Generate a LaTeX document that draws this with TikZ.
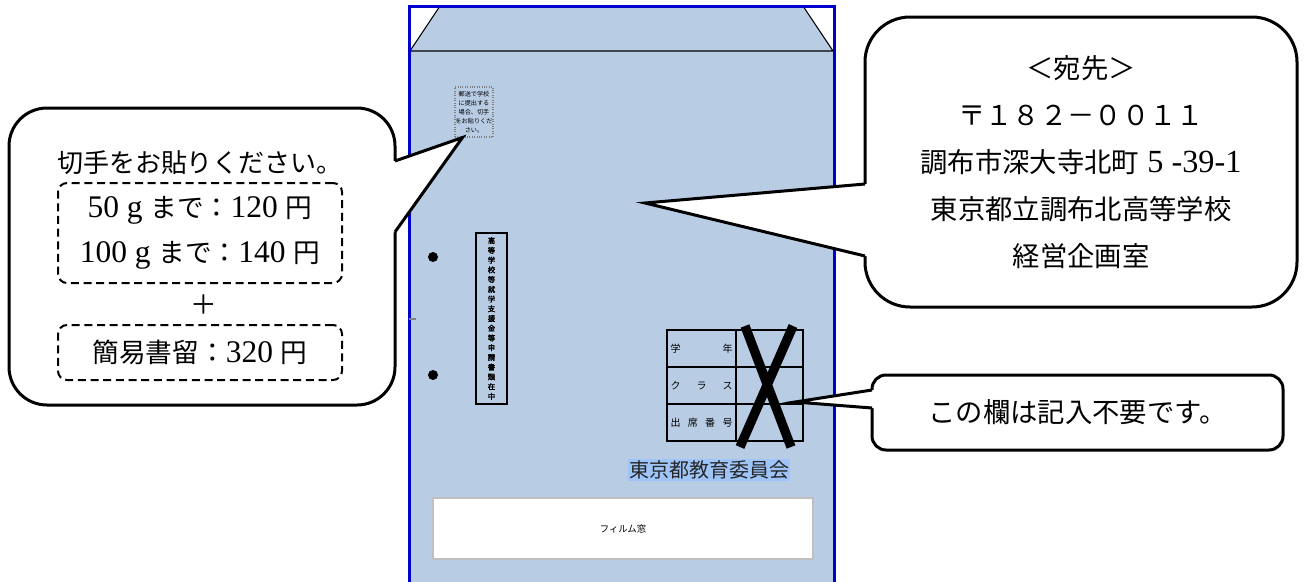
\documentclass[tikz,border=0pt]{standalone}
\usepackage{fontspec}
\setmainfont[Scale=1.18]{Liberation Serif}
\newfontfamily\jp{Noto Sans CJK JP}
\newfontfamily\jpbold[FakeBold=2.5]{Noto Sans CJK JP}
\usetikzlibrary{positioning,calc}
\newdimen\pxu \pxu=0.75pt
\definecolor{envblue}{HTML}{B8CCE4}
\definecolor{edgeblue}{HTML}{0000CC}
\definecolor{markblue}{HTML}{9FC5F8}

\begin{document}
\begin{tikzpicture}[x=0.75pt,y=-0.75pt,
    callout/.style={rectangle,draw,fill=white,line width=2.25pt},
    pricebox/.style={rectangle,draw,line width=1.5pt,dash pattern=on 6pt off 3.5pt,
        rounded corners=9\pxu,minimum width=284\pxu},
    cell/.style={rectangle,draw,line width=1.5pt,outer sep=0pt,inner sep=0pt,
        minimum height=37\pxu,anchor=north west,font=\jp\fontsize{7.5}{9}\selectfont},
    wedge/.style={line width=2.25pt,line join=miter}]
  \useasboundingbox (0,0) rectangle (1304,582);
  %%%%% THE ENVELOPE
  \fill[envblue] (409,6) rectangle (834,582);
  \fill[white] (409,6) -- (440,6) -- (409,51) -- cycle;
  \fill[white] (834,6) -- (803,6) -- (834,51) -- cycle;
  \draw[line width=0.8pt] (440,6) -- (410,51) -- (833,51) -- (803,6);
  \draw[edgeblue,line width=2.25pt] (409,582) -- (409,6) -- (834,6) -- (834,582);
  \draw[gray,line width=1.5pt] (409,319) -- (416,319);
  \fill (433,257) circle[radius=5\pxu];
  \fill (433,375) circle[radius=5\pxu];
  % stamp box and side strip
  \node[draw=gray,densely dotted,line width=0.8pt,fill=envblue,minimum width=38\pxu,
      minimum height=50\pxu,inner sep=0pt,align=center,
      font=\jp\fontsize{4.6}{6.8}\selectfont] (stamp) at (474,112)
      {郵送で学校\\に提出する\\場合、切手\\をお貼りくだ\\さい。};
  \node[draw,line width=1.5pt,minimum width=31\pxu,minimum height=171\pxu,inner sep=0pt,
      align=center,font=\jpbold\fontsize{5.5}{7.3}\selectfont] (strip) at (491.5,318.5)
      {高\\等\\学\\校\\等\\就\\学\\支\\援\\金\\等\\申\\請\\書\\類\\在\\中};
  %%%%% THE TABLE
  \node[cell,minimum width=69\pxu] (grade-1-1) at (667,330) {\makebox[62\pxu][s]{学\hfill 年}};
  \node[cell,minimum width=67\pxu] (grade-1-2) at (736,330) {};
  \node[cell,minimum width=69\pxu] (grade-2-1) at (667,367) {\makebox[62\pxu][s]{ク\hfill ラ\hfill ス}};
  \node[cell,minimum width=67\pxu] (grade-2-2) at (736,367) {};
  \node[cell,minimum width=69\pxu] (grade-3-1) at (667,404) {\makebox[62\pxu][s]{出\hfill 席\hfill 番\hfill 号}};
  \node[cell,minimum width=67\pxu] (grade-3-2) at (736,404) {};
  \draw[line width=7pt] (745,326) -- (791,447) (793,326) -- (740,447);
  \node[fill=markblue,inner sep=1pt,text=black!85,font=\jp\fontsize{15}{18}\selectfont]
      (board) at (709,470) {東京都教育委員会};
  \node[draw=black!25,line width=1pt,fill=white,minimum width=380\pxu,minimum height=61\pxu,
      font=\jp\fontsize{7}{8}\selectfont] (film) at (623,528.5) {フィルム窓};
  %%%%% THE NOTES
  % stamp note
  \node[callout,rounded corners=38\pxu,minimum width=386\pxu,minimum height=297\pxu]
      (stampnote) at (202,256.5) {};
  \node[font=\jp\fontsize{19.5}{24}\selectfont] (stamptitle) at (200,163) {切手をお貼りください。};
  \node[pricebox,minimum height=100\pxu,align=center,font=\fontsize{20}{33.75}\selectfont]
      (rate) at (200,233) {50 g {\jp まで：}120 {\jp 円}\\100 g {\jp まで：}140 {\jp 円}};
  \node[font=\jp\fontsize{20}{24}\selectfont] (plus) at (204,305) {＋};
  \node[pricebox,minimum height=55\pxu,font=\fontsize{20}{24}\selectfont]
      (reg) at (200,352.5) {{\jp 簡易書留：}320 {\jp 円}};
  \coordinate (sa) at (395,161);
  \coordinate (sb) at (395,232);
  \coordinate (stip) at ($(stamp.south west)+(8,0)$);
  \fill[white] ($(sa)+(-4,0)$) -- (sa) -- (stip) -- (sb) -- ($(sb)+(-4,0)$) -- cycle;
  \draw[wedge] (sa) -- (stip) -- (sb);
  % address note
  \node[callout,rounded corners=45\pxu,minimum width=432\pxu,minimum height=290\pxu,
      align=center,font=\fontsize{20.5}{35.25}\selectfont] (addrnote) at (1081,162)
      {{\jp ＜宛先＞}\\{\jp 〒１８２－００１１}\\{\jp 調布市深大寺北町} 5 -39-1\\
       {\jp 東京都立調布北高等学校}\\{\jp 経営企画室}};
  \coordinate (aa) at (865,184);
  \coordinate (ab) at (865,256);
  \coordinate (atip) at (645,203);
  \fill[white] ($(aa)+(4,0)$) -- (aa) -- (atip) -- (ab) -- ($(ab)+(4,0)$) -- cycle;
  \draw[wedge] (aa) -- (atip) -- (ab);
  % skip note
  \node[callout,rounded corners=14\pxu,minimum width=411\pxu,minimum height=75\pxu,
      font=\jp\fontsize{20.5}{24}\selectfont] (skipnote) at (1077.5,412.5) {この欄は記入不要です。};
  \coordinate (ka) at (872,390);
  \coordinate (kb) at (872,408);
  \coordinate (ktip) at ($(grade-3-2.north east)+(-8,-2)$);
  \fill[white] ($(ka)+(4,0)$) -- (ka) -- (ktip) -- (kb) -- ($(kb)+(4,0)$) -- cycle;
  \draw[wedge] (ka) -- (ktip) -- (kb);
\end{tikzpicture}
\end{document}
